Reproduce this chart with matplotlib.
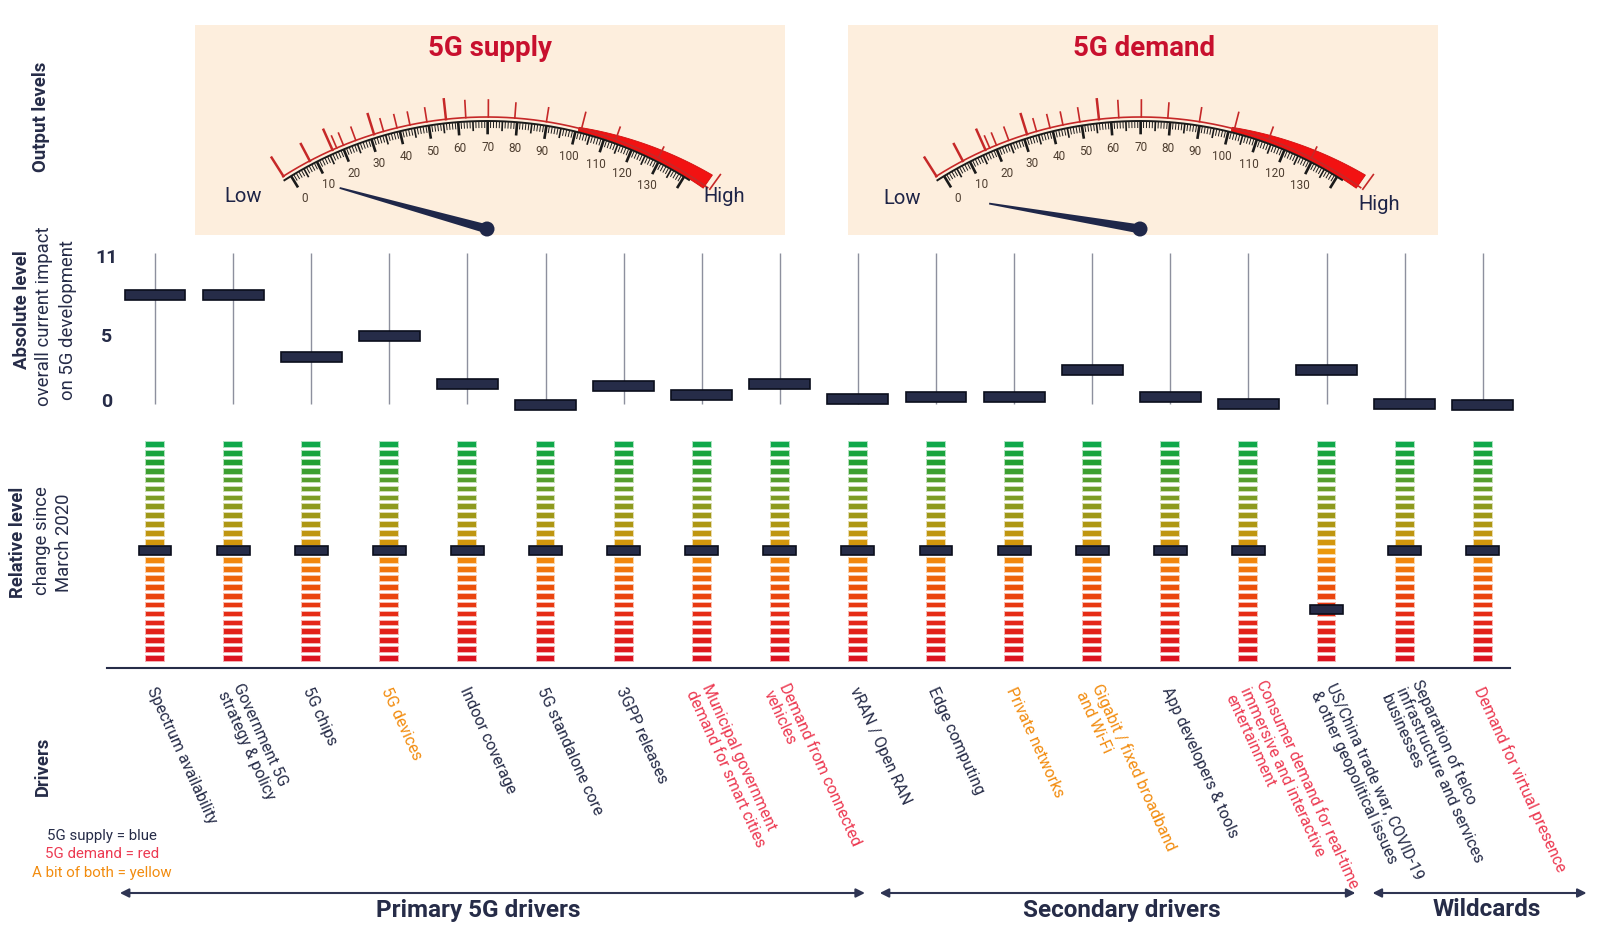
import numpy as np
import matplotlib
matplotlib.use("Agg")
import matplotlib.pyplot as plt
from matplotlib.patches import Polygon, Circle, Rectangle
from matplotlib.colors import LinearSegmentedColormap

plt.rcParams['font.family'] = ['Roboto', 'DejaVu Sans']

# ---------------- data ----------------
drivers = [
    "Spectrum availability",
    "Government 5G\nstrategy & policy",
    "5G chips",
    "5G devices",
    "Indoor coverage",
    "5G standalone core",
    "3GPP releases",
    "Municipal government\ndemand for smart cities",
    "Demand from connected\nvehicles",
    "vRAN / Open RAN",
    "Edge computing",
    "Private networks",
    "Gigabit / fixed broadband\nand Wi-Fi",
    "App developers & tools",
    "Consumer demand for real-time\nimmersive and interactive\nentertainment",
    "US/China trade war, COVID-19\n& other geopolitical issues",
    "Separation of telco\ninfrastructure and services\nbusinesses",
    "Demand for virtual presence",
]
driver_type = ["supply", "supply", "supply", "both", "supply", "supply", "supply",
               "demand", "demand", "supply", "supply", "both", "both", "supply",
               "demand", "supply", "supply", "demand"]
absolute_level = [8.0, 8.0, 3.3, 4.9, 1.2, -0.4, 1.1, 0.4, 1.2, 0.1, 0.2, 0.2,
                  2.3, 0.25, -0.3, 2.3, -0.3, -0.4]
relative_change = [0, 0, 0, 0, 0, 0, 0, 0, 0, 0, 0, 0, 0, 0, 0, -6.6, 0, 0]
absolute_ticks = [0, 5, 11]
relative_steps = list(range(-12, 13))
gauge_titles = ["5G supply", "5G demand"]
gauge_readings = [10, 0]
gauge_scale = [0, 10, 20, 30, 40, 50, 60, 70, 80, 90, 100, 110, 120, 130]
group_names = ["Primary 5G drivers", "Secondary drivers", "Wildcards"]
legend_lines = ["5G supply = blue", "5G demand = red", "A bit of both = yellow"]

# ---------------- style / layout ----------------
NAVY = "#262c48"
TYPE_COL = {"supply": NAVY, "demand": "#ec3a52", "both": "#f28c0f"}
LEGEND_COL = [NAVY, "#ec3a52", "#f28c0f"]
W, H = 1600, 940
COL0, COLW = 155.0, 78.1
GROUP_SPANS = [(-0.45, 9.09), (9.28, 15.37), (15.59, 18.33)]
GROUP_TEXT_X = [478, 1122, 1487]

def colx(i):
    return COL0 + COLW * i

fig = plt.figure(figsize=(16, 9.4), dpi=100)
fig.patch.set_facecolor("white")

ov = fig.add_axes([0, 0, 1, 1])
ov.set_xlim(0, W)
ov.set_ylim(H, 0)
ov.axis("off")

def add_axes_px(x0, x1, ytop, ybot):
    a = fig.add_axes([x0 / W, 1 - ybot / H, (x1 - x0) / W, (ybot - ytop) / H])
    a.patch.set_alpha(0)
    for s in a.spines.values():
        s.set_visible(False)
    return a

n = len(drivers)
x = np.arange(n)

# ---------------- gauges ----------------
def draw_gauge(cx, cy, pivot_y, reading, title, box_x, low_xy, high_xy):
    ov.add_patch(Rectangle((box_x, 25), 590, 210, facecolor="#fdeedd", edgecolor="none", zorder=0))
    ov.text(box_x + 296, 49, title, ha="center", va="center", fontsize=20,
            fontweight="bold", color="#c8102e")

    def pt(r, th):
        t = np.deg2rad(th)
        return cx + r * np.cos(t), cy - r * np.sin(t)

    def v2th(v):
        return 121.4 - 0.45 * v

    # red band
    thb = np.linspace(76, 55, 60)
    r_out = 381 + (76 - thb) / 21.0 * 12
    outer = [pt(r, t) for r, t in zip(r_out, thb)]
    inner = [pt(377, t) for t in thb[::-1]]
    ov.add_patch(Polygon(outer + inner, closed=True, facecolor="#f21212",
                         edgecolor="#d01010", lw=0.6, zorder=2))
    # red outer arc
    th = np.linspace(122.5, 54.5, 300)
    px, py = pt(380, th)
    ov.plot(px, py, color="#c62828", lw=1.2, zorder=3)
    red_ticks = [(122.4, 22), (117.8, 19), (114.0, 22), (113.3, 13), (112.2, 13),
                 (110.2, 14), (107.3, 21), (105.8, 13), (103.7, 13.5), (101.7, 13),
                 (99.1, 14), (96.2, 20), (93.2, 17), (89.8, 17), (85.8, 15),
                 (81.0, 14), (75.6, 17), (70.2, 13), (63.2, 12), (54.1, 18)]
    for t, L in red_ticks:
        a = pt(380, t)
        b = pt(380 + L, t)
        ov.plot([a[0], b[0]], [a[1], b[1]], color="#c62828",
                lw=1.8 if L >= 19 else 1.2, zorder=3)
    # black arc + ticks
    th = np.linspace(122.6, 57.5, 300)
    px, py = pt(376, th)
    ov.plot(px, py, color="#1a1a1a", lw=1.4, zorder=3)
    for v in range(0, 141, 1):
        t = v2th(v)
        if v % 10 == 0:
            L, lw = 11, 1.9
        elif v % 5 == 0:
            L, lw = 8, 1.2
        else:
            L, lw = 5.5, 0.7
        a = pt(375, t)
        b = pt(375 - L, t)
        ov.plot([a[0], b[0]], [a[1], b[1]], color="#1a1a1a", lw=lw, zorder=3)
    for v in gauge_scale:
        tx, ty = pt(350, v2th(v))
        ov.text(tx, ty, str(v), ha="center", va="center", fontsize=8.5, color="#4e3e30")
    # needle
    tx, ty = pt(350, v2th(reading))
    p = np.array([cx, pivot_y])
    d = np.array([tx, ty]) - p
    d = d / np.hypot(*d)
    nrm = np.array([-d[1], d[0]])
    tip = p + 153 * d
    ov.add_patch(Polygon([p + 4.5 * nrm, tip + 0.9 * nrm, tip - 0.9 * nrm, p - 4.5 * nrm],
                         closed=True, facecolor="#1f2749", edgecolor="none", zorder=4))
    ov.add_patch(Circle(p, 7.5, facecolor="#1f2749", edgecolor="none", zorder=4))
    ov.text(*low_xy, "Low", ha="center", va="center", fontsize=14.5, color="#1e2447")
    ov.text(*high_xy, "High", ha="center", va="center", fontsize=14.5, color="#1e2447")

draw_gauge(487, 497, 229, gauge_readings[0], gauge_titles[0], 194.5, (243, 196), (724, 196))
draw_gauge(1140, 497, 229, gauge_readings[1], gauge_titles[1], 848, (902, 199), (1379, 204))

# ---------------- side titles ----------------
side = dict(rotation=90, ha="center", va="center", fontsize=13.3, color=NAVY)
ov.text(41, 117, "Output levels", fontweight="bold", **side)
ov.text(22, 310, "Absolute level", fontweight="bold", **side)
ov.text(44, 316, "overall current impact", **side)
ov.text(68, 320, "on 5G development", **side)
ov.text(18, 542, "Relative level", fontweight="bold", **side)
ov.text(42, 541, "change since", **side)
ov.text(64, 543, "March 2020", **side)
ov.text(43, 766, "Drivers", fontweight="bold", **side)

# ---------------- absolute panel ----------------
A0, AU = 400.0, 13.09
ax_a = add_axes_px(colx(-0.5), colx(n - 0.5), 240, 415)
ax_a.set_xlim(-0.5, n - 0.5)
ax_a.set_ylim((A0 - 415) / AU, (A0 - 240) / AU)
ax_a.vlines(x, -0.3, 11.2, color="#8d909e", lw=1.0, zorder=1)
ax_a.bar(x, 0.76, bottom=np.array(absolute_level) - 0.38, width=0.78,
         color=NAVY, edgecolor="#0b0e1c", lw=1.2, zorder=3)
ax_a.set_xticks([])
ax_a.set_yticks(absolute_ticks)
ax_a.set_yticklabels([str(t) for t in absolute_ticks], fontsize=14,
                     fontweight="bold", color=NAVY)
ax_a.tick_params(axis="y", length=0, pad=7)
for lab in ax_a.get_yticklabels():
    lab.set_ha("center")

# ---------------- relative panel ----------------
R0, RU = 551.5, 8.93
ax_r = add_axes_px(colx(-0.5), colx(n - 0.5), 430, 665)
ax_r.set_xlim(-0.5, n - 0.5)
ax_r.set_ylim((R0 - 665) / RU, (R0 - 430) / RU)
ax_r.set_xticks([])
ax_r.set_yticks([])
cmap = LinearSegmentedColormap.from_list(
    "rg", [(0.0, "#dc1220"), (0.2, "#e62a16"), (0.33, "#ec500a"), (0.45, "#f28410"),
           (0.5, "#ec980a"), (0.56, "#c8960e"), (0.66, "#a29816"), (0.75, "#7e9c24"),
           (0.85, "#4e9e2e"), (0.92, "#22a032"), (1.0, "#10a84a")])
for lv in relative_steps:
    c = cmap((lv + 12) / 24.0)
    ax_r.bar(x, 0.54, bottom=lv - 0.27, width=0.23, color=c,
             edgecolor=(c[0], c[1], c[2], 0.35), lw=1.4, zorder=2)
ax_r.bar(x, 1.08, bottom=np.array(relative_change) - 0.42, width=0.42,
         color=NAVY, edgecolor="#0b0e1c", lw=1.2, zorder=4)

# baseline
ov.plot([107, 1510], [668, 668], color=NAVY, lw=1.5)

# ---------------- driver labels ----------------
for i, (name, t) in enumerate(zip(drivers, driver_type)):
    ov.text(colx(i) - 4, 688, name, rotation=-65.5, rotation_mode="anchor",
            ha="left", va="center", fontsize=11.5, color=TYPE_COL[t],
            linespacing=1.15)

# legend text
for k, (s, c) in enumerate(zip(legend_lines, LEGEND_COL)):
    ov.text(102, 836 + 18.5 * k, s, ha="center", va="center", fontsize=10.8, color=c)

# ---------------- group arrows ----------------
for name, (a, b), tx in zip(group_names, GROUP_SPANS, GROUP_TEXT_X):
    xa, xb = colx(a), colx(b)
    ov.annotate("", xy=(xb, 893), xytext=(xa, 893),
                arrowprops=dict(arrowstyle="<|-|>", color="#2f3553", lw=1.5,
                                mutation_scale=13, shrinkA=0, shrinkB=0))
    ov.text(tx, 910, name, ha="center", va="center", fontsize=17.5,
            fontweight="bold", color=NAVY)

fig.savefig("out.png", dpi=100, facecolor="white")
